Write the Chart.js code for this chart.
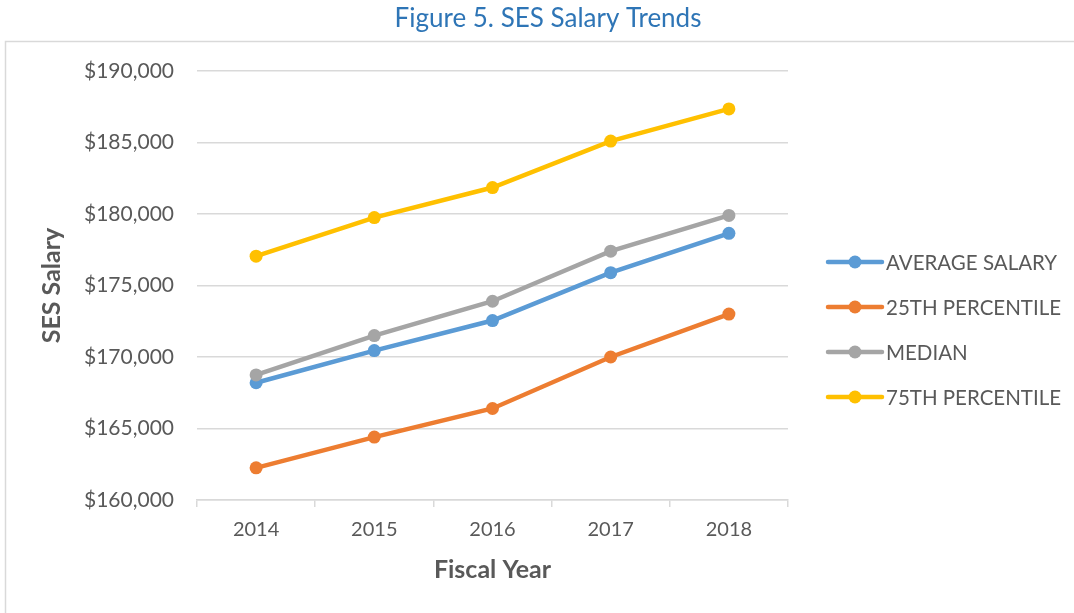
<!DOCTYPE html>
<html>
<head>
<meta charset="utf-8">
<script src="https://cdn.jsdelivr.net/npm/chart.js@4/dist/chart.umd.min.js"></script>
<style>
  html, body { margin: 0; padding: 0; background: #ffffff; }
  #wrap { position: relative; width: 1074px; height: 613px; }
</style>
</head>
<body>
<div id="wrap"><canvas id="c" width="1074" height="613"></canvas></div>
<script>
const categories = ['2014', '2015', '2016', '2017', '2018'];
const averageSalary = [168200, 170450, 172550, 175900, 178650];
const percentile25 = [162250, 164400, 166400, 170000, 173000];
const medianSalary = [168750, 171500, 173900, 177400, 179900];
const percentile75 = [177050, 179750, 181850, 185100, 187350];
const seriesNames = ['AVERAGE SALARY', '25TH PERCENTILE', 'MEDIAN', '75TH PERCENTILE'];
const seriesColors = ['#5B9BD5', '#ED7D31', '#A5A5A5', '#FFC000'];
const yMin = 160000, yMax = 190000, yStep = 5000;
const chartTitle = 'Figure 5. SES Salary Trends';

const FONT = 'Lato, "Open Sans", sans-serif';
const TXT = '#595959';

function ds(i, data) {
  return {
    label: seriesNames[i],
    data: data,
    borderColor: seriesColors[i],
    backgroundColor: seriesColors[i],
    borderWidth: 4.5,
    pointRadius: 6.5,
    pointHoverRadius: 6.5,
    pointBorderWidth: 0,
    tension: 0,
    order: 4 - i
  };
}

const frame = {
  id: 'frame',
  beforeDraw(chart) {
    const ctx = chart.ctx;
    ctx.save();
    ctx.strokeStyle = '#d9d9d9';
    ctx.lineWidth = 1.5;
    ctx.strokeRect(5.5, 41.5, 1200, 700);
    ctx.fillStyle = '#2E75B6';
    ctx.font = '26px ' + FONT;
    ctx.textAlign = 'center';
    ctx.textBaseline = 'middle';
    ctx.fillText(chartTitle, 548, 19);
    ctx.restore();
  }
};

const legendPlugin = {
  id: 'xlLegend',
  afterDraw(chart) {
    const ctx = chart.ctx;
    const x0 = chart.chartArea.right + 40;
    ctx.save();
    chart.data.datasets.forEach((d, i) => {
      const y = 262 + 45 * i;
      ctx.strokeStyle = d.borderColor;
      ctx.lineWidth = 4.5;
      ctx.lineCap = 'round';
      ctx.beginPath();
      ctx.moveTo(x0, y);
      ctx.lineTo(x0 + 54, y);
      ctx.stroke();
      ctx.fillStyle = d.borderColor;
      ctx.beginPath();
      ctx.arc(x0 + 27, y, 6.5, 0, Math.PI * 2);
      ctx.fill();
      ctx.fillStyle = TXT;
      ctx.font = '20.5px ' + FONT;
      ctx.textBaseline = 'middle';
      ctx.textAlign = 'left';
      ctx.fillText(d.label, x0 + 58, y + 1);
    });
    ctx.restore();
  }
};

new Chart(document.getElementById('c'), {
  type: 'line',
  data: {
    labels: categories,
    datasets: [ds(0, averageSalary), ds(1, percentile25), ds(2, medianSalary), ds(3, percentile75)]
  },
  options: {
    responsive: false,
    animation: false,
    layout: { padding: { left: 0, right: 286, top: 71, bottom: 0 } },
    plugins: {
      legend: { display: false },
      tooltip: { enabled: false },
      title: { display: false }
    },
    scales: {
      x: {
        offset: true,
        grid: { offset: true, drawOnChartArea: false, drawTicks: true, tickLength: 7, color: '#d9d9d9', lineWidth: 1.5 },
        border: { display: true, color: '#d9d9d9', width: 1.5 },
        ticks: { color: TXT, font: { family: FONT, size: 20 }, padding: 11, maxRotation: 0 },
        title: { display: true, text: 'Fiscal Year', color: TXT, font: { family: FONT, size: 25, weight: 'bold' }, padding: { top: 0, bottom: 28 } },
        afterFit(s) { s.height = 113; }
      },
      y: {
        min: yMin,
        max: yMax,
        grid: { drawTicks: false, color: '#d9d9d9', lineWidth: 1.5 },
        border: { display: false },
        ticks: {
          stepSize: yStep,
          color: TXT,
          font: { family: FONT, size: 21 },
          padding: 23,
          callback: v => '$' + v.toLocaleString('en-US')
        },
        title: { display: true, text: 'SES Salary', color: TXT, font: { family: FONT, size: 25, weight: 'bold' }, padding: { top: 37, bottom: 0 } },
        afterFit(s) { s.width = 197; }
      }
    }
  },
  plugins: [frame, legendPlugin]
});
</script>
</body>
</html>
